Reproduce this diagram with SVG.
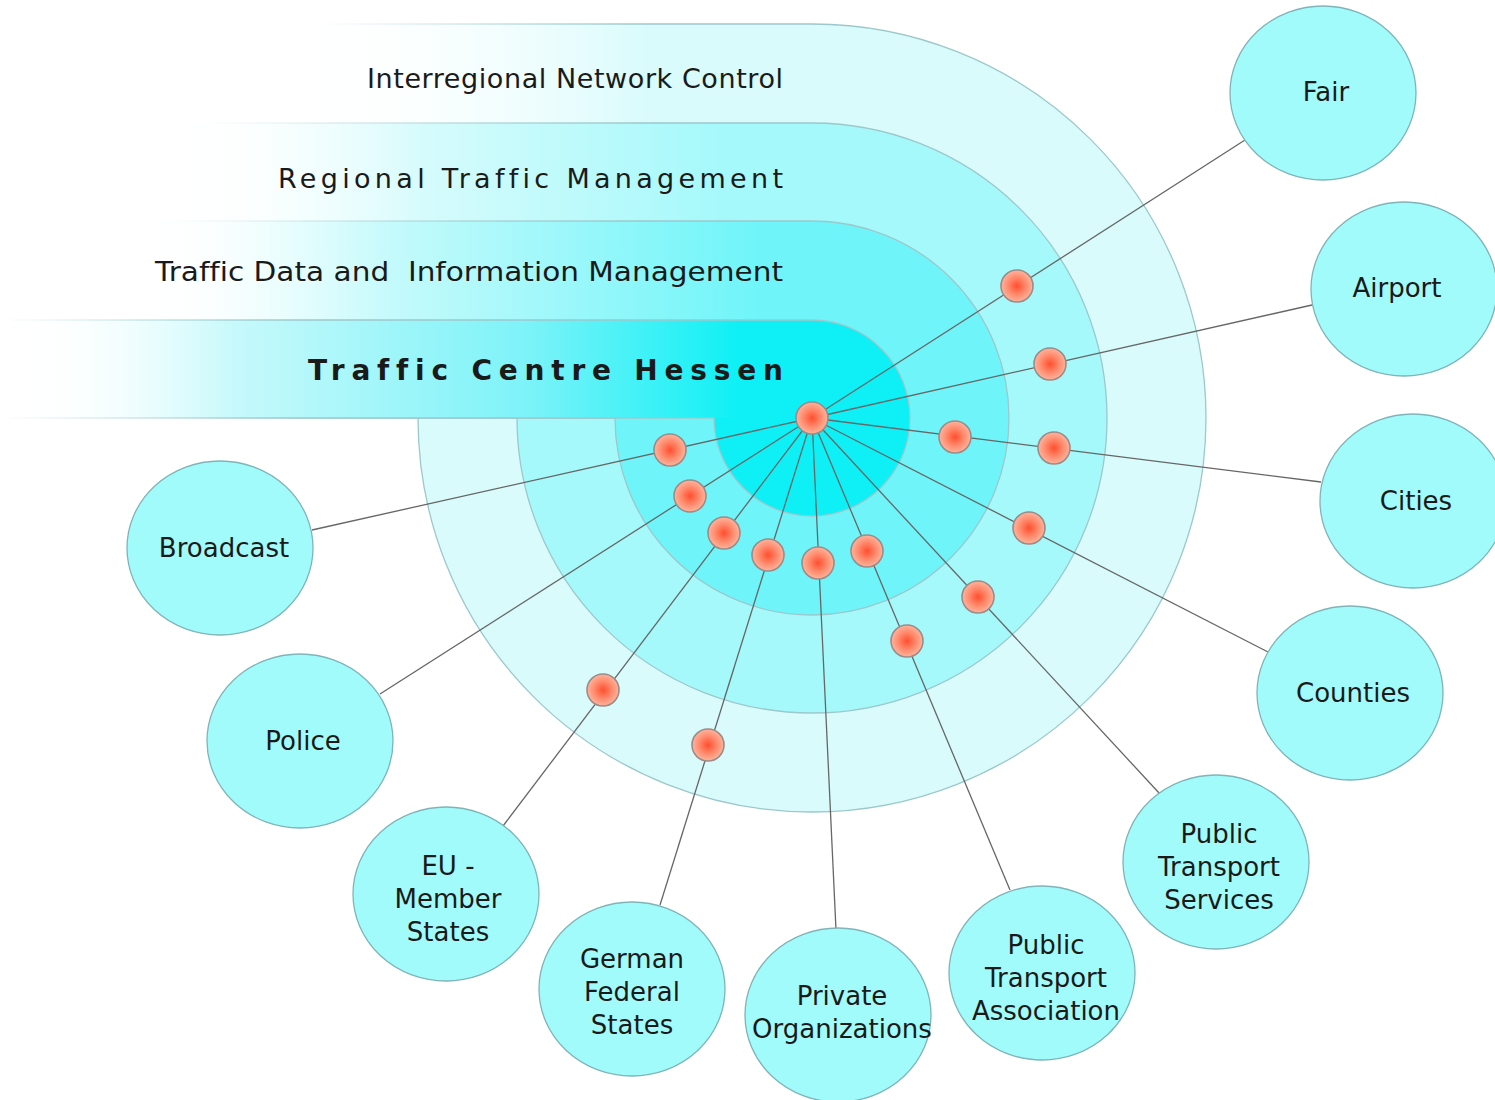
<svg xmlns="http://www.w3.org/2000/svg" width="1495" height="1100" viewBox="0 0 1495 1100">
<defs>
<linearGradient id="g4" gradientUnits="userSpaceOnUse" x1="300" y1="0" x2="650" y2="0"><stop offset="0" stop-color="#ffffff" stop-opacity="0"/><stop offset="1" stop-color="#d9fbfc"/></linearGradient>
<linearGradient id="g3" gradientUnits="userSpaceOnUse" x1="180" y1="0" x2="720" y2="0"><stop offset="0" stop-color="#ffffff" stop-opacity="0"/><stop offset="0.45" stop-color="#d6fbfc"/><stop offset="1" stop-color="#a6f9fb"/></linearGradient>
<linearGradient id="g2" gradientUnits="userSpaceOnUse" x1="150" y1="0" x2="760" y2="0"><stop offset="0" stop-color="#ffffff" stop-opacity="0"/><stop offset="0.4" stop-color="#c4fafb"/><stop offset="1" stop-color="#6ff5f9"/></linearGradient>
<linearGradient id="g1" gradientUnits="userSpaceOnUse" x1="20" y1="0" x2="740" y2="0"><stop offset="0" stop-color="#ffffff" stop-opacity="0"/><stop offset="0.3" stop-color="#c6f9fb"/><stop offset="0.7" stop-color="#7ef3f8"/><stop offset="1" stop-color="#0ef0f5"/></linearGradient>
<linearGradient id="s4" gradientUnits="userSpaceOnUse" x1="320" y1="0" x2="650" y2="0"><stop offset="0" stop-color="#9cc8cc" stop-opacity="0"/><stop offset="1" stop-color="#9cc8cc"/></linearGradient>
<linearGradient id="s3" gradientUnits="userSpaceOnUse" x1="200" y1="0" x2="650" y2="0"><stop offset="0" stop-color="#9cc8cc" stop-opacity="0"/><stop offset="1" stop-color="#9cc8cc"/></linearGradient>
<linearGradient id="s2" gradientUnits="userSpaceOnUse" x1="160" y1="0" x2="650" y2="0"><stop offset="0" stop-color="#9cc8cc" stop-opacity="0"/><stop offset="1" stop-color="#9cc8cc"/></linearGradient>
<linearGradient id="s1" gradientUnits="userSpaceOnUse" x1="0" y1="0" x2="300" y2="0"><stop offset="0" stop-color="#9cc8cc" stop-opacity="0"/><stop offset="1" stop-color="#9cc8cc"/></linearGradient>
<radialGradient id="dotg" cx="0.5" cy="0.5" r="0.5"><stop offset="0" stop-color="#ff4f2e"/><stop offset="0.55" stop-color="#ff8a6c"/><stop offset="1" stop-color="#ffb49e"/></radialGradient>
<style>
.edge{fill:none;stroke-width:1.3}
.arc{fill:none;stroke:#9cc8cc;stroke-width:1.3}
.node ellipse{fill:#a2fbfb;stroke:#7fb4b8;stroke-width:1.3}
.node text{font-family:"DejaVu Sans","Liberation Sans",sans-serif;font-size:26px;fill:#1a1a1a;text-anchor:middle;font-variant-ligatures:none}
.title{font-family:"DejaVu Sans","Liberation Sans",sans-serif;font-size:27px;fill:#1a1a1a;text-anchor:end;font-variant-ligatures:none}
.conn line{stroke:#666;stroke-width:1.3}
.dot{fill:url(#dotg);stroke:#9a8c88;stroke-width:1.6}
</style>
</defs>
<rect width="1495" height="1100" fill="#ffffff"/>

<g id="bands">
<g id="band4">
<rect x="300" y="24" width="512" height="394" fill="url(#g4)"/>
<path d="M812,418 V24 A394,394 0 1 1 418,418 Z" fill="#d9fbfc"/>
<path class="edge" d="M300,24 H812" stroke="url(#s4)"/>
<path class="edge" d="M300,418 H418" stroke="url(#s4)"/>
<path class="arc" d="M812,24 A394,394 0 1 1 418,418"/>
</g>
<g id="band3">
<rect x="180" y="123" width="632" height="295" fill="url(#g3)"/>
<path d="M812,418 V123 A295,295 0 1 1 517,418 Z" fill="#a6f9fb"/>
<path class="edge" d="M180,123 H812" stroke="url(#s3)"/>
<path class="edge" d="M180,418 H517" stroke="url(#s3)"/>
<path class="arc" d="M812,123 A295,295 0 1 1 517,418"/>
</g>
<g id="band2">
<rect x="150" y="221" width="662" height="197" fill="url(#g2)"/>
<path d="M812,418 V221 A197,197 0 1 1 615,418 Z" fill="#6ff5f9"/>
<path class="edge" d="M150,221 H812" stroke="url(#s2)"/>
<path class="edge" d="M150,418 H615" stroke="url(#s2)"/>
<path class="arc" d="M812,221 A197,197 0 1 1 615,418"/>
</g>
<g id="band1">
<rect x="10" y="320" width="802" height="98" fill="url(#g1)"/>
<path d="M812,418 V320 A98,98 0 1 1 714,418 Z" fill="#0ef0f5"/>
<path class="edge" d="M10,320 H812" stroke="url(#s1)"/>
<path class="edge" d="M10,418 H714" stroke="url(#s1)"/>
<path class="arc" d="M812,320 A98,98 0 1 1 714,418"/>
</g>
</g>

<g id="titles">
<text class="title" x="783" y="88" textLength="416">Interregional Network Control</text>
<text class="title" x="783" y="188" textLength="505">Regional Traffic Management</text>
<text class="title" x="783" y="281" textLength="628" lengthAdjust="spacingAndGlyphs" style="white-space:pre">Traffic Data and  Information Management</text>
<text class="title" x="783" y="380" textLength="475" style="font-weight:bold;font-size:28px">Traffic Centre Hessen</text>
</g>

<g id="connectors" class="conn">
<line x1="812" y1="418" x2="1245" y2="140"/>
<line x1="812" y1="418" x2="1312" y2="305"/>
<line x1="812" y1="418" x2="1321" y2="482"/>
<line x1="812" y1="418" x2="1268" y2="652"/>
<line x1="812" y1="418" x2="1160" y2="794"/>
<line x1="812" y1="418" x2="1010" y2="890"/>
<line x1="812" y1="418" x2="836" y2="930"/>
<line x1="812" y1="418" x2="660" y2="905"/>
<line x1="812" y1="418" x2="503" y2="826"/>
<line x1="812" y1="418" x2="380" y2="694"/>
<line x1="812" y1="418" x2="312" y2="530"/>
</g>

<g id="node-fair" class="node"><ellipse cx="1323" cy="93" rx="93" ry="87"/><text x="1326" y="101">Fair</text></g>
<g id="node-airport" class="node"><ellipse cx="1404" cy="289" rx="93" ry="87"/><text x="1397" y="297">Airport</text></g>
<g id="node-cities" class="node"><ellipse cx="1413" cy="501" rx="93" ry="87"/><text x="1416" y="510">Cities</text></g>
<g id="node-counties" class="node"><ellipse cx="1350" cy="693" rx="93" ry="87"/><text x="1353" y="702">Counties</text></g>
<g id="node-pts" class="node"><ellipse cx="1216" cy="862" rx="93" ry="87"/><text x="1219" y="843">Public</text><text x="1219" y="876">Transport</text><text x="1219" y="909">Services</text></g>
<g id="node-pta" class="node"><ellipse cx="1042" cy="973" rx="93" ry="87"/><text x="1046" y="954">Public</text><text x="1046" y="987">Transport</text><text x="1046" y="1020">Association</text></g>
<g id="node-private" class="node"><ellipse cx="838" cy="1015" rx="93" ry="87"/><text x="842" y="1005">Private</text><text x="842" y="1038">Organizations</text></g>
<g id="node-german" class="node"><ellipse cx="632" cy="989" rx="93" ry="87"/><text x="632" y="968">German</text><text x="632" y="1001">Federal</text><text x="632" y="1034">States</text></g>
<g id="node-eu" class="node"><ellipse cx="446" cy="894" rx="93" ry="87"/><text x="448" y="875">EU -</text><text x="448" y="908">Member</text><text x="448" y="941">States</text></g>
<g id="node-police" class="node"><ellipse cx="300" cy="741" rx="93" ry="87"/><text x="303" y="750">Police</text></g>
<g id="node-broadcast" class="node"><ellipse cx="220" cy="548" rx="93" ry="87"/><text x="224" y="557">Broadcast</text></g>

<g id="dots">
<circle class="dot" cx="1017" cy="286" r="16"/>
<circle class="dot" cx="1050" cy="364" r="16"/>
<circle class="dot" cx="955" cy="437" r="16"/>
<circle class="dot" cx="1054" cy="448" r="16"/>
<circle class="dot" cx="1029" cy="528" r="16"/>
<circle class="dot" cx="978" cy="597" r="16"/>
<circle class="dot" cx="907" cy="641" r="16"/>
<circle class="dot" cx="867" cy="551" r="16"/>
<circle class="dot" cx="818" cy="563" r="16"/>
<circle class="dot" cx="768" cy="555" r="16"/>
<circle class="dot" cx="708" cy="745" r="16"/>
<circle class="dot" cx="724" cy="533" r="16"/>
<circle class="dot" cx="603" cy="690" r="16"/>
<circle class="dot" cx="690" cy="496" r="16"/>
<circle class="dot" cx="670" cy="450" r="16"/>
<circle id="node-center" class="dot" cx="812" cy="418" r="16"/>
</g>
</svg>
